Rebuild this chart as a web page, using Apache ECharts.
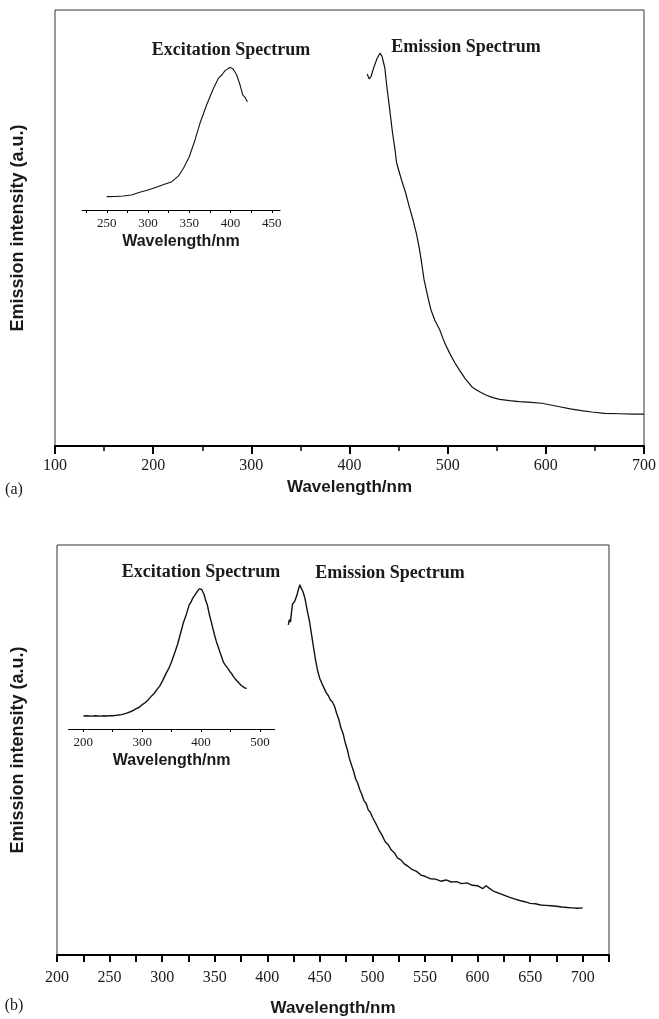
<!DOCTYPE html>
<html>
<head>
<meta charset="utf-8">
<script src="https://cdn.jsdelivr.net/npm/echarts@6/dist/echarts.min.js"></script>
<style>
html,body{margin:0;padding:0;background:#fff;}
#chart{width:659px;height:1019px;}
</style>
</head>
<body>
<div id="chart"></div>
<script>
// ---------- data ----------
// (a) main emission spectrum
var emA_x = [418,420,422,425,428,431,433,436,438,441,444,446,448,453,457,461,465,468,471,473,476,480,483,487,492,497,502,507,512,518,525,532,539,546,553,563,573,585,596,605,614,625,636,647,660,675,690,700];
var emA_y = [85.3,84.2,84.8,87.0,88.8,90.1,89.5,86.7,82.5,77.1,71.5,68.6,64.9,61.0,58.2,54.8,51.6,48.9,45.5,42.7,38.1,34.0,31.2,28.8,26.6,23.6,21.3,19.2,17.4,15.4,13.5,12.5,11.7,11.1,10.7,10.4,10.2,10.0,9.8,9.4,9.0,8.5,8.1,7.8,7.5,7.4,7.3,7.3];
// (a) inset excitation spectrum
var exA_x = [250,260,270,280,290,300,310,320,329,337,343,350,357,363,371,378.5,385.3,389.4,393.4,397.4,400,403.4,407.5,411.6,414.8,417.6,420.5];
var exA_y = [8.9,9.0,9.3,10.0,11.8,13.3,15.1,17.1,18.9,22.7,27.8,35.5,46.7,57.8,70.0,80.0,87.8,90.0,92.9,94.4,95.1,93.8,90.0,83.3,76.7,75.1,72.2];
// (b) main emission spectrum
var emB_x = [420,421,422,423,424,425,426,428,430,431,432,434,436,438,440,442,444,446,448,450,452,454,456,458,460,462,464,466,468,470,472,474,476,478,480,482,484,486,488,490,492,494,496,498,500,503,506,509,512,515,518,521,524,527,530,534,538,542,546,550,555,560,565,570,575,580,585,590,595,600,605,608,611,615,620,625,630,635,640,645,650,655,660,665,670,675,680,685,690,695,700];
var emB_y = [80.5,81.8,81.2,83.5,85.6,86.0,86.2,87.6,89.5,90.3,89.6,88.6,86.8,84.0,81.6,78.3,75.0,71.8,69.2,67.4,66.2,65.1,64.0,63.3,62.2,61.7,60.6,58.9,57.5,55.4,54.1,51.9,50.2,48.0,46.4,44.9,43.0,41.9,40.3,39.1,37.6,37.0,35.4,34.8,33.6,32.2,30.6,29.3,27.7,26.9,25.6,24.9,23.6,23.2,22.3,21.6,20.8,20.4,19.5,19.2,18.6,18.5,18.0,18.3,17.8,17.9,17.4,17.6,17.0,16.9,16.2,16.9,16.3,15.6,15.1,14.6,14.1,13.7,13.3,13.0,12.6,12.5,12.2,12.1,12.0,11.9,11.7,11.6,11.5,11.4,11.5];
// (b) inset excitation spectrum
var exB_x = [200,205,210,215,220,225,230,235,240,245,250,255,260,265,270,275,280,285,290,295,300,305,310,315,320,325,330,335,340,345,350,355,360,365,370,375,380,383,386,389,392,395,397,399,401,403,405,408,411,414,417,420,423,426,429,432,435,438,441,444,447,450,453,456,459,462,465,468,471,474,476,478];
var exB_y = [8.6,8.8,8.7,8.6,8.8,8.7,8.6,8.8,8.7,8.9,8.8,9.1,9.3,9.6,10.1,10.8,11.5,12.4,13.6,14.5,16.2,17.5,19.4,21.6,23.5,26.2,28.8,32.4,36.6,40.2,44.8,50.5,56.2,63.5,70.8,76.4,82.9,84.6,87.3,88.5,90.8,91.6,93.4,94.6,93.0,92.4,89.8,85.6,82.3,76.5,72.1,67.2,62.5,58.4,55.0,51.3,48.2,44.6,42.8,41.2,39.6,37.8,36.3,34.4,33.0,31.6,30.8,29.2,28.6,27.4,28.3,27.1];

// tick values
var ticksA_main = [100,200,300,400,500,600,700];
var ticksA_inset_labels = [250,300,350,400,450];
var ticksA_inset_ticks = [225,250,275,300,325,350,375,400,425,450];
var ticksB_main_labels = [200,250,300,350,400,450,500,550,600,650,700];
var ticksB_main_ticks = [200,225,250,275,300,325,350,375,400,425,450,475,500,525,550,575,600,625,650,675,700,725];
var ticksB_inset_labels = [200,300,400,500];
var ticksB_inset_ticks = [200,250,300,350,400,450,500];

var axisNameA = 'Wavelength/nm';
var yName = 'Emission intensity (a.u.)';

function zip(xs, ys){ var r=[]; for(var i=0;i<xs.length;i++) r.push([xs[i], ys[i]]); return r; }

var SERIF = '"Liberation Serif", "DejaVu Serif", serif';
var SANS = '"Liberation Sans", Arial, sans-serif';
var INK = '#1a1a1a';

function baseMainX(idx, min, max, gap, margin){
  return {
    type:'value', gridIndex: idx, min:min, max:max,
    name: axisNameA, nameLocation:'middle', nameGap: gap,
    nameTextStyle:{fontFamily:SANS, fontWeight:'bold', fontSize:17, color:INK},
    axisLine:{show:true, onZero:false, lineStyle:{color:'#000', width:2}},
    axisLabel:{fontFamily:SERIF, fontSize:16, color:INK, margin:margin},
    axisTick:{show:true, inside:false, length:8, lineStyle:{color:'#000', width:2}},
    splitLine:{show:false}, minorSplitLine:{show:false}
  };
}
var xA = baseMainX(0, 100, 700, 33, 12);
xA.interval = 100;
xA.minorTick = {show:true, splitNumber:2, length:5, lineStyle:{color:'#000', width:1.5}};

var xB = baseMainX(2, 200, 725, 45, 15);
xB.axisLabel.customValues = ticksB_main_labels;
xB.axisTick.customValues = ticksB_main_ticks;
xB.axisTick.length = 7;

function insetX(idx, min, max, labelVals, tickVals, gap){
  return {
    type:'value', gridIndex: idx, min:min, max:max,
    name: axisNameA, nameLocation:'middle', nameGap: gap,
    nameTextStyle:{fontFamily:SANS, fontWeight:'bold', fontSize:16, color:INK},
    axisLine:{show:true, onZero:false, lineStyle:{color:'#000', width:1.2}},
    axisLabel:{fontFamily:SERIF, fontSize:13, color:INK, margin:7, customValues: labelVals},
    axisTick:{show:true, inside:false, length:3, lineStyle:{color:'#000', width:1}, customValues: tickVals},
    splitLine:{show:false}
  };
}
function hiddenY(idx, name, gap){
  return {
    type:'value', gridIndex: idx, min:0, max:100,
    name: name || '', nameLocation:'middle', nameRotate:90, nameGap: gap || 0,
    nameTextStyle:{fontFamily:SANS, fontWeight:'bold', fontSize:18, color:INK},
    axisLine:{show:false}, axisTick:{show:false}, axisLabel:{show:false}, splitLine:{show:false}
  };
}
function lineSeries(idx, data, w){
  return {type:'line', xAxisIndex:idx, yAxisIndex:idx, data:data, showSymbol:false, smooth:false,
    lineStyle:{color:'#111', width:w}, animation:false, silent:true};
}

var chart = echarts.init(document.getElementById('chart'), null, {renderer:'canvas'});
chart.setOption({
  animation:false,
  backgroundColor:'#fff',
  grid:[
    {left:55, top:10, width:589, height:436, show:true, borderColor:'#333', borderWidth:1},
    {left:82, top:60, width:198, height:150, show:false},
    {left:57, top:545, width:552, height:410, show:true, borderColor:'#333', borderWidth:1},
    {left:68.6, top:579, width:206, height:150, show:false}
  ],
  xAxis:[
    xA,
    insetX(1, 220, 460, ticksA_inset_labels, ticksA_inset_ticks, 24),
    xB,
    insetX(3, 175, 525, ticksB_inset_labels, ticksB_inset_ticks, 24)
  ],
  yAxis:[
    hiddenY(0, yName, 28),
    hiddenY(1),
    hiddenY(2, yName, 30),
    hiddenY(3)
  ],
  series:[
    lineSeries(0, zip(emA_x, emA_y), 1.2),
    lineSeries(1, zip(exA_x, exA_y), 1.1),
    lineSeries(2, zip(emB_x, emB_y), 1.4),
    lineSeries(3, zip(exB_x, exB_y), 1.4)
  ],
  graphic:[
    {type:'text', x:231, y:50, style:{text:'Excitation Spectrum', font:'bold 18px '+SERIF, fill:INK, align:'center', verticalAlign:'middle'}},
    {type:'text', x:466, y:47, style:{text:'Emission Spectrum', font:'bold 18px '+SERIF, fill:INK, align:'center', verticalAlign:'middle'}},
    {type:'text', x:201, y:572, style:{text:'Excitation Spectrum', font:'bold 18px '+SERIF, fill:INK, align:'center', verticalAlign:'middle'}},
    {type:'text', x:390, y:573, style:{text:'Emission Spectrum', font:'bold 18px '+SERIF, fill:INK, align:'center', verticalAlign:'middle'}},
    {type:'text', x:14, y:490, style:{text:'(a)', font:'16px '+SERIF, fill:INK, align:'center', verticalAlign:'middle'}},
    {type:'text', x:14, y:1006, style:{text:'(b)', font:'16px '+SERIF, fill:INK, align:'center', verticalAlign:'middle'}}
  ]
});
</script>
</body>
</html>
